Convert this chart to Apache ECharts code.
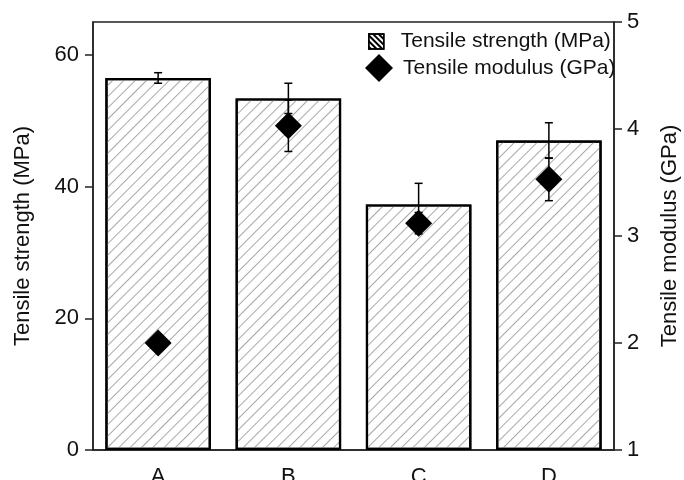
<!DOCTYPE html>
<html><head><meta charset="utf-8">
<script src="https://cdn.jsdelivr.net/npm/echarts@6/dist/echarts.min.js"></script>
<style>html,body{margin:0;padding:0;background:#fff}#c{width:684px;height:480px}</style>
</head><body><div id="c"></div>
<script>
const categories = ['A', 'B', 'C', 'D'];
const strength = [56.5, 53.4, 37.3, 47.0];
const strengthErr = [0.8, 2.3, 3.2, 2.7];
const modulus = [2.0, 4.03, 3.12, 3.53];
const modulusErr = [0.05, 0.24, 0.1, 0.2];
const leftTicks = [0, 20, 40, 60];
const rightTicks = [1, 2, 3, 4, 5];

const FONT = 'Liberation Sans';
const chart = echarts.init(document.getElementById('c'), null, {renderer: 'canvas'});

function errRender(vals, errs) {
  return function (params, api) {
    const i = api.value(0);
    const v = vals[i], e = errs[i];
    const hi = api.coord([i, v + e]);
    const lo = api.coord([i, v - e]);
    const hw = 4;
    const st = {stroke: '#000', lineWidth: 1.5};
    return {type: 'group', children: [
      {type: 'line', shape: {x1: hi[0], y1: hi[1], x2: lo[0], y2: lo[1]}, style: st},
      {type: 'line', shape: {x1: hi[0] - hw, y1: hi[1], x2: hi[0] + hw, y2: hi[1]}, style: st},
      {type: 'line', shape: {x1: lo[0] - hw, y1: lo[1], x2: lo[0] + hw, y2: lo[1]}, style: st}
    ]};
  };
}

const hatch = {symbol: 'rect', dashArrayX: [1, 0], dashArrayY: [1, 7], rotation: -Math.PI / 4, color: '#a8a8a8', symbolSize: 1};
const legendHatch = {symbol: 'rect', dashArrayX: [1, 0], dashArrayY: [2, 2], rotation: Math.PI / 4, color: '#000', symbolSize: 1};

chart.setOption({
  animation: false,
  textStyle: {fontFamily: FONT},
  grid: {left: 93, right: 70, top: 22, bottom: 30, show: true, borderColor: '#222', borderWidth: 1.5,
         containLabel: false, outerBoundsMode: 'none'},
  legend: [
    {data: [{name: 'Tensile strength (MPa)', icon: 'rect', itemStyle: {color: '#fff', borderColor: '#000', borderWidth: 1.5, decal: legendHatch}}],
     left: 363, top: 26, itemWidth: 15, itemHeight: 15,
     textStyle: {fontFamily: FONT, fontSize: 21, color: '#111', padding: [0, 0, 0, 12]}},
    {data: [{name: 'Tensile modulus (GPa)', icon: 'diamond'}], left: 360, top: 49, itemWidth: 28, itemHeight: 28,
     textStyle: {fontFamily: FONT, fontSize: 21, color: '#111', padding: [0, 0, 0, 5]}}
  ],
  xAxis: {
    type: 'category', data: categories, boundaryGap: true,
    axisLine: {lineStyle: {color: '#222', width: 1.5}},
    axisTick: {alignWithLabel: true, length: 8, lineStyle: {color: '#222', width: 1.5}},
    axisLabel: {fontFamily: FONT, fontSize: 22, color: '#111', margin: 16}
  },
  yAxis: [
    {type: 'value', min: 0, max: 65, interval: 20, position: 'left',
     name: 'Tensile strength (MPa)', nameLocation: 'middle', nameRotate: 90, nameGap: 59,
     nameTextStyle: {fontFamily: FONT, fontSize: 22, color: '#111'},
     axisLine: {show: true, lineStyle: {color: '#222', width: 1.5}},
     axisTick: {show: true, length: 8, customValues: leftTicks, lineStyle: {color: '#222', width: 1.5}},
     axisLabel: {fontFamily: FONT, fontSize: 22, color: '#111', margin: 14, customValues: leftTicks},
     splitLine: {show: false}},
    {type: 'value', min: 1, max: 5, interval: 1, position: 'right',
     name: 'Tensile modulus (GPa)', nameLocation: 'middle', nameRotate: 90, nameGap: 45,
     nameTextStyle: {fontFamily: FONT, fontSize: 22, color: '#111'},
     axisLine: {show: true, lineStyle: {color: '#222', width: 1.5}},
     axisTick: {show: true, length: 8, customValues: rightTicks, lineStyle: {color: '#222', width: 1.5}},
     axisLabel: {fontFamily: FONT, fontSize: 22, color: '#111', margin: 13, customValues: rightTicks},
     splitLine: {show: false}}
  ],
  series: [
    {name: 'Tensile strength (MPa)', type: 'bar', yAxisIndex: 0, data: strength, barWidth: '81%',
     itemStyle: {color: '#fff', borderColor: '#000', borderWidth: 2.2, decal: hatch}, z: 2},
    {type: 'custom', yAxisIndex: 0, data: categories.map((c, i) => [i, strength[i]]),
     renderItem: errRender(strength, strengthErr), z: 3},
    {type: 'custom', yAxisIndex: 1, data: categories.map((c, i) => [i, modulus[i]]),
     renderItem: errRender(modulus, modulusErr), z: 3},
    {name: 'Tensile modulus (GPa)', type: 'scatter', yAxisIndex: 1, data: modulus, symbol: 'diamond',
     symbolSize: [27, 27], itemStyle: {color: '#000', opacity: 1}, z: 4}
  ]
});
</script></body></html>
